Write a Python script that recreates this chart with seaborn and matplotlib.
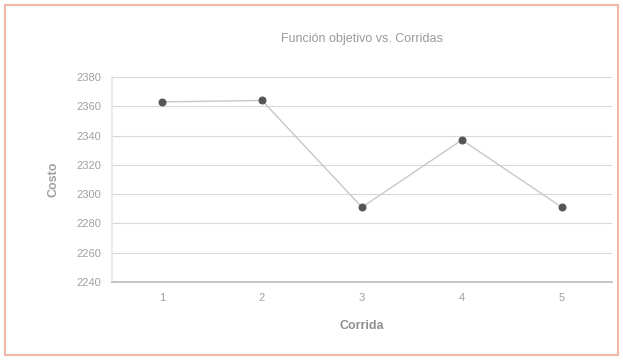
import matplotlib
matplotlib.use("Agg")
import matplotlib.pyplot as plt
import seaborn as sns
import pandas as pd
from matplotlib.patches import Rectangle

# values
corridas = [1, 2, 3, 4, 5]
costos = [2363, 2364, 2291, 2337, 2291]
y_ticks = [2240, 2260, 2280, 2300, 2320, 2340, 2360, 2380]

df = pd.DataFrame({"Corrida": corridas, "Costo": costos})

sns.set_theme(style="white")
plt.rcParams['font.family'] = ['Liberation Sans', 'DejaVu Sans']

fig = plt.figure(figsize=(6.23, 3.6), dpi=100)
ax = fig.add_axes([0.180, 0.217, 0.802, 0.569])

sns.lineplot(data=df, x="Corrida", y="Costo", ax=ax, color="#c8c8c8",
             linewidth=1.0, marker="o", markersize=5,
             markerfacecolor="#555555", markeredgecolor="#555555")

ax.set_xlim(0.5, 5.5)
ax.set_ylim(2240, 2380)
ax.set_xticks(corridas)
ax.set_yticks(y_ticks)
ax.yaxis.grid(True, color="#d9d9d9", linewidth=0.8)
ax.xaxis.grid(False)
ax.set_axisbelow(True)

for side in ["top", "right"]:
    ax.spines[side].set_visible(False)
ax.spines["left"].set_color("#e6e6e6")
ax.spines["bottom"].set_color("#bdbdbd")

ax.tick_params(axis="both", colors="#a0a0a0", labelsize=8, length=0, pad=8)
ax.set_xlabel("Corrida", color="#909090", fontsize=9, fontweight="bold", labelpad=12)
ax.set_ylabel("Costo", color="#a0a0a0", fontsize=9, fontweight="bold", labelpad=12)
ax.set_title("Función objetivo vs. Corridas", color="#9a9a9a", fontsize=9, pad=25)

# outer frame of the original image
fig.patches.append(Rectangle((0.008, 0.014), 0.984, 0.972, transform=fig.transFigure,
                             fill=False, edgecolor="#f2b9a6", linewidth=1.5))

fig.savefig("out.png", dpi=100)
